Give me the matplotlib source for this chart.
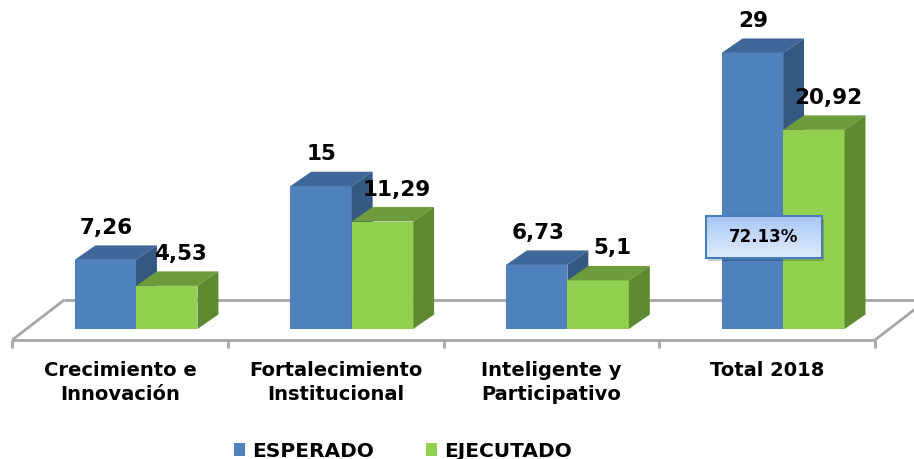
# Gráfico de barras 3D (estilo Excel): ESPERADO vs EJECUTADO por eje, 2018
import numpy as np
import matplotlib.pyplot as plt
from matplotlib.patches import Polygon, Rectangle, Patch
from matplotlib.colors import LinearSegmentedColormap

# Datos
categorias = ['Crecimiento e\nInnovación', 'Fortalecimiento\nInstitucional',
              'Inteligente y\nParticipativo', 'Total 2018']
esperado = [7.26, 15, 6.73, 29]
ejecutado = [4.53, 11.29, 5.1, 20.92]
porcentaje_total = '72.13%'

# Colores (cara frontal, superior, lateral)
azul = ('#4f81bd', '#3f679a', '#345882')
verde = ('#92d050', '#6e9b3c', '#5d8a30')
gris = '#a6a6a6'

fig = plt.figure(figsize=(9.14, 4.59), dpi=100)
ax = fig.add_axes([0, 0, 1, 1])
ax.set_xlim(-0.6306, 3.6068)
ax.set_ylim(-13.66, 34.56)
ax.axis('off')

ancho = 0.285          # ancho de cada barra
prof_x, prof_y = 0.097, 1.52   # profundidad de la barra
n = len(categorias)

# Piso
desp = 0.074
izq, der = -0.5 - desp, n - 0.5 - desp
y_frente, y_fondo = -1.15, 3.05
piso_dx = 0.241
kw = dict(color=gris, lw=2, solid_capstyle='butt', zorder=1)
ax.plot([izq, der], [y_frente, y_frente], **kw)
ax.plot([izq + piso_dx, der + piso_dx], [y_fondo, y_fondo], **kw)
ax.plot([izq, izq + piso_dx], [y_frente, y_fondo], **kw)
ax.plot([der, der + piso_dx], [y_frente, y_fondo], **kw)
for k in range(n + 1):
    ax.plot([izq + k, izq + k], [y_frente, y_frente - 0.85], **kw)


def barra3d(x0, v, colores, z):
    frente, arriba, lado = colores
    ax.add_patch(Rectangle((x0, 0), ancho, v, facecolor=frente, edgecolor='none', zorder=z))
    ax.add_patch(Polygon([(x0, v), (x0 + ancho, v), (x0 + ancho + prof_x, v + prof_y),
                          (x0 + prof_x, v + prof_y)], closed=True,
                         facecolor=arriba, edgecolor='none', zorder=z))
    ax.add_patch(Polygon([(x0 + ancho, 0), (x0 + ancho + prof_x, prof_y),
                          (x0 + ancho + prof_x, v + prof_y), (x0 + ancho, v)], closed=True,
                         facecolor=lado, edgecolor='none', zorder=z))


def etiqueta(v):
    return f'{v:g}'.replace('.', ',')


for i in range(n):
    barra3d(i - ancho, esperado[i], azul, 2 + 2 * i)
    barra3d(i, ejecutado[i], verde, 3 + 2 * i)
    ax.annotate(etiqueta(esperado[i]), (i - ancho / 2, esperado[i]), xytext=(1, 32),
                textcoords='offset pixels', ha='center', va='center',
                fontsize=15.5, fontweight='bold', zorder=20)
    ax.annotate(etiqueta(ejecutado[i]), (i + ancho / 2, ejecutado[i]), xytext=(14, 32),
                textcoords='offset pixels', ha='center', va='center',
                fontsize=15.5, fontweight='bold', zorder=20)
    ax.text(i - desp, -3.4, categorias[i], ha='center', va='top', fontsize=14,
            fontweight='bold', linespacing=1.32)

# Cuadro con el porcentaje de ejecución total
cx, cy, bw, bh = 2.91, 9.66, 0.538, 4.41
ax.add_patch(Rectangle((cx - bw / 2 + 0.012, cy - bh / 2 - 0.35), bw, bh,
                       facecolor='black', alpha=0.18, edgecolor='none', zorder=25))
grad = np.linspace(0, 1, 50).reshape(-1, 1)
cmap = LinearSegmentedColormap.from_list('caja', ['#e1ecfc', '#a8c7f5'])
ax.imshow(grad, cmap=cmap, extent=(cx - bw / 2, cx + bw / 2, cy + bh / 2, cy - bh / 2),
          aspect='auto', zorder=26, origin='upper')
ax.add_patch(Rectangle((cx - bw / 2, cy - bh / 2), bw, bh, facecolor='none',
                       edgecolor='#4a7ebb', lw=1.5, zorder=27))
ax.text(cx, cy, porcentaje_total, ha='center', va='center', fontsize=12,
        fontweight='bold', zorder=28)

# Leyenda
fig.legend(handles=[Patch(facecolor=azul[0]), Patch(facecolor=verde[0])],
           labels=['ESPERADO', 'EJECUTADO'], loc='lower center',
           bbox_to_anchor=(403 / 914, -0.043), ncol=2, frameon=False,
           prop={'weight': 'bold', 'size': 14.5}, handlelength=0.55, handleheight=0.55,
           handletextpad=0.35, columnspacing=2.6)

fig.savefig('out.png', dpi=100)
